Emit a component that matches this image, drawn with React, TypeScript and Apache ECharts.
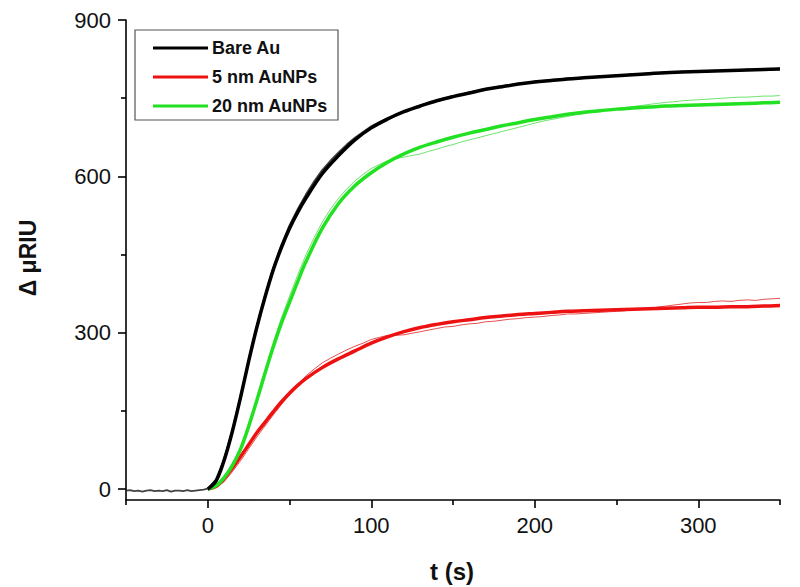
import React, { useEffect, useRef } from "react";
import * as echarts from "echarts";

const seriesNames = ["Bare Au", "5 nm AuNPs", "20 nm AuNPs"];
const seriesColors = ["#000000", "#ee1111", "#22e022"];
const rawColors = ["#222222", "#e03030", "#55dd55"];

const xTickLabels = [0, 100, 200, 300];
const xMinorTicks = [-50, 50, 150, 250, 350];
const yTickLabels = [0, 300, 600, 900];
const yMinorTicks = [150, 450, 750];

// fitted curves
const fitT = [0, 5, 10, 15, 20, 25, 30, 35, 40, 45, 50, 55, 60, 70, 80, 90, 100, 110, 120, 130, 140, 150, 160, 170, 180, 190, 200, 210, 220, 230, 240, 250, 260, 270, 280, 290, 300, 310, 320, 330, 340, 350];
const fitBare = [0, 15, 55, 110, 175, 245, 310, 368, 420, 463, 500, 531, 558, 605, 640, 670, 693, 710, 724, 735, 745, 753, 760, 767, 772, 777, 781, 784, 787, 789, 791, 793, 795, 797, 799, 800, 801, 802, 803, 804, 805, 806];
const fit5nm = [0, 5, 20, 40, 62, 85, 108, 128, 148, 167, 184, 199, 212, 233, 250, 265, 280, 292, 302, 310, 316, 321, 325, 329, 332, 335, 337, 339, 341, 342, 343, 344, 345, 346, 347, 348, 349, 349, 350, 350, 351, 352];
const fit20nm = [0, 6, 22, 45, 76, 120, 170, 222, 272, 318, 358, 398, 436, 500, 548, 582, 607, 627, 643, 656, 666, 675, 683, 690, 697, 703, 709, 714, 719, 723, 726, 729, 731, 733, 735, 736, 737, 738, 739, 740, 741, 742];

// raw measurements
const baseT = [-50, -47.5, -45, -42.5, -40, -37.5, -35, -32.5, -30, -27.5, -25, -22.5, -20, -17.5, -15, -12.5, -10, -7.5, -5, -2.5];
const baseBare = [-3, -2, -4, -3, -5, -3, -2, -4, -3, -4, -2, -5, -3, -3, -4, -2, -4, -3, -2, -1];
const rawT = [
  0, 5, 10, 15, 20, 25, 30, 35, 40, 45,
  50, 55, 60, 65, 70, 75, 80, 85, 90, 95,
  100, 105, 110, 115, 120, 125, 130, 135, 140, 145,
  150, 155, 160, 165, 170, 175, 180, 185, 190, 195,
  200, 205, 210, 215, 220, 225, 230, 235, 240, 245,
  250, 255, 260, 265, 270, 275, 280, 285, 290, 295,
  300, 305, 310, 315, 320, 325, 330, 335, 340, 345,
  350,
];
const rawBare = [
  1, 18, 58, 112, 177, 247, 313, 371, 424, 468,
  506, 537, 565, 590, 612, 630, 646, 661, 674, 685,
  696, 704, 712, 718, 725, 730, 736, 741, 745, 750,
  754, 757, 761, 764, 768, 770, 773, 775, 778, 779,
  782, 783, 785, 786, 788, 788, 790, 790, 792, 792,
  794, 794, 796, 796, 798, 798, 800, 799, 801, 800,
  802, 801, 803, 802, 804, 803, 805, 804, 806, 805,
  807,
];
const raw5nm = [
  1, 3, 14, 33, 54, 77, 100, 121, 142, 162,
  181, 200, 217, 230, 242, 251, 259, 267, 274, 280,
  287, 291, 295, 295, 296, 299, 302, 305, 308, 311,
  312, 315, 317, 318, 321, 322, 324, 326, 327, 329,
  330, 331, 333, 334, 336, 336, 337, 338, 339, 340,
  341, 342, 344, 345, 347, 349, 351, 353, 355, 357,
  358, 358, 360, 361, 360, 362, 363, 362, 364, 365,
  366,
];
const raw20nm = [
  0, 5, 21, 46, 78, 123, 174, 228, 280, 328,
  370, 411, 449, 482, 512, 537, 558, 576, 591, 604,
  615, 623, 630, 634, 637, 640, 643, 648, 652, 657,
  661, 666, 670, 674, 678, 682, 686, 690, 694, 698,
  702, 706, 709, 712, 715, 718, 720, 723, 725, 728,
  730, 732, 734, 736, 738, 740, 742, 743, 745, 746,
  747, 748, 749, 750, 751, 752, 752, 753, 754, 754,
  755,
];

const zip = (xs: number[], ys: number[]) => xs.map((x, i) => [x, ys[i]]);

const FONT = "'Liberation Sans', Arial, sans-serif";

export default function App() {
  const ref = useRef<HTMLDivElement>(null);
  useEffect(() => {
    if (!ref.current) return;
    const chart = echarts.init(ref.current, undefined, { renderer: "svg" });
    const axisLineStyle = { color: "#000", width: 1.6 };
    const rawSeries = (data: number[][], color: string, width: number) => ({
      type: "line",
      data,
      showSymbol: false,
      silent: true,
      lineStyle: { color, width, opacity: 0.85 },
      z: 2,
    });
    const fitSeries = (name: string, data: number[][], color: string) => ({
      type: "line",
      name,
      data,
      showSymbol: false,
      smooth: 0.35,
      lineStyle: { color, width: 3.5 },
      itemStyle: { color },
      z: 3,
    });
    const legendRows = [48, 77, 106];
    chart.setOption({
      animation: false,
      backgroundColor: "#fff",
      grid: { left: 126, right: 20, top: 20, bottom: 87 },
      xAxis: [
        {
          type: "value",
          min: -50,
          max: 350,
          position: "bottom",
          axisLine: { show: true, onZero: false, lineStyle: axisLineStyle },
          axisTick: { show: true, customValues: xTickLabels, length: 8, lineStyle: axisLineStyle },
          axisLabel: { customValues: xTickLabels, fontSize: 22, color: "#111", fontFamily: FONT, margin: 14 },
          splitLine: { show: false },
        },
        {
          type: "value",
          min: -50,
          max: 350,
          position: "bottom",
          axisLine: { show: false, onZero: false },
          axisTick: { show: true, customValues: xMinorTicks, length: 5, lineStyle: axisLineStyle },
          axisLabel: { show: false },
          splitLine: { show: false },
        },
      ],
      yAxis: [
        {
          type: "value",
          min: -21,
          max: 900,
          position: "left",
          axisLine: { show: true, onZero: false, lineStyle: axisLineStyle },
          axisTick: { show: true, customValues: yTickLabels, length: 8, lineStyle: axisLineStyle },
          axisLabel: { customValues: yTickLabels, fontSize: 22, color: "#111", fontFamily: FONT, margin: 15 },
          splitLine: { show: false },
        },
        {
          type: "value",
          min: -21,
          max: 900,
          position: "left",
          axisLine: { show: false, onZero: false },
          axisTick: { show: true, customValues: yMinorTicks, length: 5, lineStyle: axisLineStyle },
          axisLabel: { show: false },
          splitLine: { show: false },
        },
      ],
      series: [
        rawSeries(zip(baseT, baseBare).concat(zip(rawT, rawBare)), rawColors[0], 1.8),
        rawSeries(zip(rawT, raw20nm), rawColors[2], 1),
        rawSeries(zip(rawT, raw5nm), rawColors[1], 1),
        fitSeries(seriesNames[1], zip(fitT, fit5nm), seriesColors[1]),
        fitSeries(seriesNames[2], zip(fitT, fit20nm), seriesColors[2]),
        fitSeries(seriesNames[0], zip(fitT, fitBare), seriesColors[0]),
      ],
      graphic: [
        {
          type: "rect",
          shape: { x: 135, y: 30, width: 203, height: 90 },
          style: { fill: "#fff", stroke: "#555", lineWidth: 1.2 },
          z: 10,
        },
        ...seriesNames.flatMap((name, i) => [
          {
            type: "line",
            shape: { x1: 153, y1: legendRows[i], x2: 208, y2: legendRows[i] },
            style: { stroke: seriesColors[i], lineWidth: 3 },
            z: 11,
          },
          {
            type: "text",
            x: 212,
            y: legendRows[i],
            style: {
              text: name,
              fontSize: 18,
              fontWeight: "bold",
              fontFamily: FONT,
              fill: "#111",
              verticalAlign: "middle",
              align: "left",
            },
            z: 11,
          },
        ]),
        {
          type: "text",
          x: 28,
          y: 258,
          rotation: Math.PI / 2,
          style: {
            text: "Δ μRIU",
            fontSize: 23,
            fontWeight: "bold",
            fontFamily: FONT,
            fill: "#111",
            align: "center",
            verticalAlign: "middle",
          },
        },
        {
          type: "text",
          x: 452,
          y: 571,
          style: {
            text: "t (s)",
            fontSize: 24,
            fontWeight: "bold",
            fontFamily: FONT,
            fill: "#111",
            align: "center",
            verticalAlign: "middle",
          },
        },
      ],
    });
    return () => chart.dispose();
  }, []);
  return <div ref={ref} style={{ width: 800, height: 587, position: "absolute", left: 0, top: 0 }} />;
}
